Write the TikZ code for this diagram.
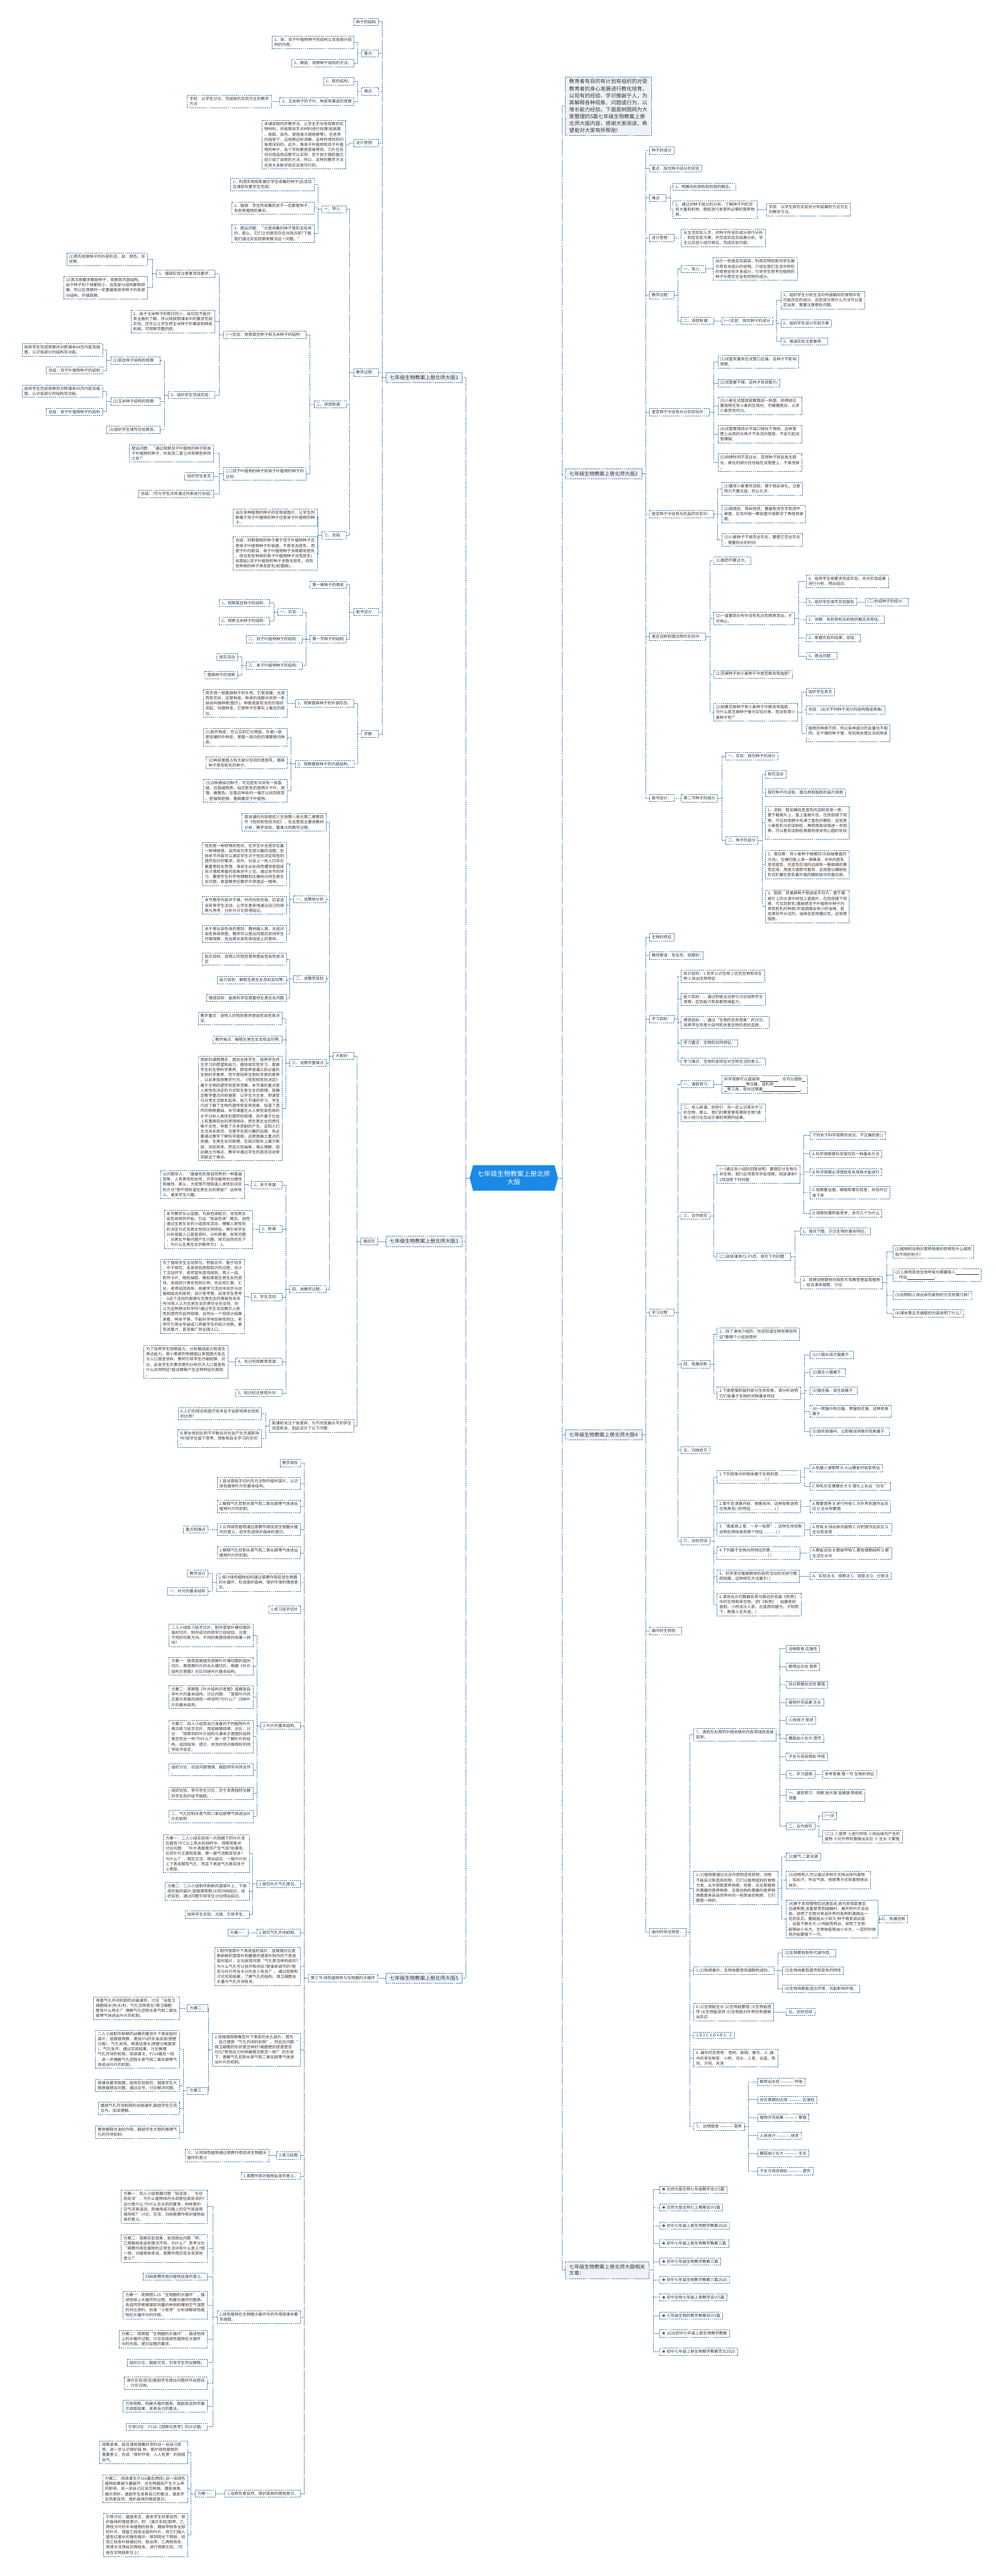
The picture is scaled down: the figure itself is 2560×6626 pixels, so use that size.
\documentclass[tikz,border=0pt]{standalone}
\usepackage{fontspec}
\setmainfont{Noto Sans CJK SC}
\usepackage{tikz}
\usetikzlibrary{shapes.symbols}
\definecolor{lnblue}{HTML}{2B6EA6}
\definecolor{txtgray}{HTML}{333333}
\definecolor{brfill}{HTML}{EEF2F6}
\definecolor{ctblue}{HTML}{1A8AE6}
\newcommand{\blnk}[1]{\rule[-1.5pt]{#1pt}{0.5pt}}

\begin{document}
\begin{tikzpicture}[x=1pt,y=-1pt,
  bx/.style={draw=lnblue,dash pattern=on 3pt off 2pt,line width=1.1pt,fill=white,text=txtgray,align=left,font=\fontsize{10.2}{13.2}\selectfont,inner xsep=6pt,inner ysep=4.5pt},
  lbx/.style={bx,anchor=east},
  rbx/.style={bx,anchor=west},
  br/.style={bx,fill=brfill,font=\fontsize{13}{17}\selectfont,inner xsep=10pt,inner ysep=7pt},
  ct/.style={signal,signal to=west and east,signal pointer angle=150,fill=ctblue,text=white,align=center,font=\fontsize{17}{22}\selectfont,minimum width=227pt,minimum height=66pt,inner sep=4pt},
  ln/.style={draw=lnblue,dash pattern=on 3pt off 2pt,line width=1.1pt}
]
\useasboundingbox (0,0) rectangle (2560,6626);

\node[ct] (ct) at (1321,3030) {七年级生物教案上册北师\\大版};

% left: 北师大版1
\node[br,anchor=east] (l1) at (1189,971) {七年级生物教案上册北师大版1};
\node[lbx] (l1a) at (973,56) {种子的结构};
\node[lbx] (l1b) at (973,137) {重点：};
\node[lbx] (l1b1) at (911,109) {1、单、双子叶植物种子的结构以及各部分结\\构的作用。};
\node[lbx] (l1b2) at (911,162) {2、解剖、观察种子结构的方法。};
\node[lbx] (l1c) at (973,235) {难点：};
\node[lbx] (l1c1) at (911,209) {1、胚的结构。};
\node[lbx] (l1c2) at (911,261) {2、玉米种子的子叶、种皮和果皮的观察};
\node[lbx] (l1c2a) at (698,261) {手段：以学生讨论、完成探究实验为主的教学\\方法};
\node[lbx] (l1d) at (973,368) {设计思想：};
\node[lbx] (l1d1) at (890,372) {本课采取同步教学法，让学生手中有观察的实\\物材料，并能够亲手对材料进行处理(如剥离\\、挑取、染色、使用放大镜观察等)。在老师\\的指导下，边观察边听讲解，这样所得到的印\\象是深刻的。此外，像单子叶植物和双子叶植\\物的种子，各个学校都很容易得到，刀片在任\\何日用品商店都可以买到，至于放大镜前面已\\经介绍了自制的方法，所以，这样的教学方法\\在绝大多数学校应该是可行的。};
\node[lbx] (l1e) at (973,958) {教学过程：};
\node[lbx] (l1e1) at (891,538) {一、导入：};
\node[lbx] (l1e1a) at (808,475) {1、利用实物投影展示学生收集的种子(此活动\\在课前布置学生完成)};
\node[lbx] (l1e1b) at (808,535) {2、强调：学生所收集的并不一定都是种子，\\有些是植物的果实。};
\node[lbx] (l1e1c) at (808,601) {3、提出问题：“大家收集的种子是形态各异\\的，那么，它们之间是否存在共同点呢?下面\\我们通过实验观察来解决这一问题。”};
\node[lbx] (l1e2) at (891,1040) {二、讲授新课：};
\node[lbx] (l1e2a) at (788,861) {(一)实验：观察菜豆种子和玉米种子的结构：};
\node[lbx] (l1e2a1) at (553,704) {1、强调实验注意事项及要求：};
\node[lbx] (l1e2a1a) at (380,667) {(1)首先观察种子的外部形态，如：颜色、形\\状等。};
\node[lbx] (l1e2a1b) at (380,740) {(2)其次按要求解剖种子，观察其内部结构。\\由于种子的个体都较小，且各部分结构都很娇\\嫩，所以在观察时一定要避免损伤种子的各部\\分结构，仔细观察。};
\node[lbx] (l1e2a2) at (553,827) {2、由于玉米种子的胚比较小，纵切后不能对\\其全面的了解。所以除按照课本中的要求完成\\实验，还可以让学生把玉米种子的果皮和种皮\\剥掉，可观察完整的胚。};
\node[lbx] (l1e2a3) at (553,1016) {3、组织学生完成实验：};
\node[lbx] (l1e2a3a) at (412,927) {(1)菜豆种子结构的观察：};
\node[lbx] (m1) at (264,900) {指导学生完成观察并对照课本44页内容及插\\图，认识各部分的结构及功能。};
\node[lbx] (m2) at (264,953) {总结：双子叶植物种子的结构};
\node[lbx] (l1e2a3b) at (412,1033) {(2)玉米种子结构的观察：};
\node[lbx] (m3) at (264,1006) {指导学生完成观察并对照课本45页内容及插\\图，认识各部分的结构及功能。};
\node[lbx] (m4) at (264,1059) {总结：单子叶植物种子的结构};
\node[lbx] (l1e2a3c) at (412,1105) {(3)组织学生填写实验报告。};
\node[lbx] (l1e2b) at (788,1219) {(二)双子叶植物的种子和单子叶植物的种子的\\比较：};
\node[lbx] (l1e2b1) at (549,1166) {提出问题：“通过观察双子叶植物的种子和单\\子叶植物的种子，你发现二者之间有哪些异同\\之处?”};
\node[lbx] (l1e2b2) at (549,1225) {组织学生发言};
\node[lbx] (l1e2b3) at (549,1271) {总结：(可与学生共同通过列表进行总结)};
\node[lbx] (l1e3) at (891,1377) {三、总结：};
\node[lbx] (l1e3a) at (816,1331) {出示多种植物的种子的实物或图片，让学生判\\断属于双子叶植物的种子还是单子叶植物的种\\子。};
\node[lbx] (l1e3b) at (816,1424) {总结：判断植物的种子属于双子叶植物种子还\\是单子叶植物种子的依据，不是有无胚乳，而\\是子叶的数目。单子叶植物种子多数都有胚乳\\，但也有些种类的单子叶植物种子没有胚乳(\\如慈姑);双子叶植物的种子多数无胚乳，但有\\些种类的种子具有胚乳(如蓖麻)。};
\node[lbx] (l1f) at (973,1574) {板书设计：};
\node[lbx] (l1f1) at (891,1504) {第一章种子的萌发};
\node[lbx] (l1f2) at (891,1644) {第一节种子的结构};
\node[lbx] (l1f2a) at (778,1574) {一、实验：};
\node[lbx] (l1f2a1) at (694,1551) {1、观察菜豆种子的结构：};
\node[lbx] (l1f2a2) at (694,1597) {2、观察玉米种子的结构：};
\node[lbx] (l1f2b) at (778,1644) {二、双子叶植物种子的结构：};
\node[lbx] (l1f2c) at (778,1712) {三、单子叶植物种子的结构：};
\node[lbx] (l1f2c1) at (611,1690) {探究活动};
\node[lbx] (l1f2c2) at (611,1736) {蓖麻种子的观察};
\node[lbx] (l1g) at (973,1888) {步骤：};
\node[lbx] (l1g1) at (910,1809) {1、观察蓖麻种子的外部形态。};
\node[lbx] (l1g1a) at (739,1809) {用手捏一捏蓖麻种子的外壳，它很坚硬，光滑\\而有花纹，这是种皮。种皮的阔面中央有一条\\纵线叫做种脊(图示)。种脊底部有浅色的海状\\突起，叫做种阜，它是种子在果实上着生的部\\位。};
\node[lbx] (l1g2) at (910,1965) {2、观察蓖麻种子的内部结构。};
\node[lbx] (l1g2a) at (739,1896) {(1)剥开种皮，可以见到它分两层，外面一层\\是坚硬的外种皮，里面一层白色的薄膜是内种\\皮。};
\node[lbx] (l1g2b) at (739,1962) {(2)种皮里面占有大部分空间的是胚乳，蓖麻\\种子是有胚乳的种子。};
\node[lbx] (l1g2c) at (739,2034) {(3)沿种脊纵切种子，可见胚乳中央有一条裂\\缝，在裂缝两旁，贴近胚乳的是两片子叶，很\\薄，嫩黄色。在靠近种阜的一端可以找到胚芽\\、胚轴和胚根。蓖麻属双子叶植物。};

% left: 北师大版3
\node[br,anchor=east] (l3) at (1189,3193) {七年级生物教案上册北师大版3};
\node[lbx] (l3a) at (971,3193) {第四节};
\node[lbx] (l3a1) at (910,2716) {大家好：};
\node[lbx] (l3a1a) at (839,2115) {我说课的内容是初三生物第八单元第二章第四\\节《性别和性别决定》，在这里我主要说教材\\分析、教学目标、重难点和教学过程。};
\node[lbx] (l3a1b) at (839,2313) {一、说教材分析};
\node[lbx] (p1) at (737,2222) {性别是一种特殊的性状，在学生中总是存在着\\一种神秘感，自然成为学生感兴趣的话题。安\\排本节内容可以满足学生对于性别决定和性别\\遗传知识的需求。另外，社会上一些人仍存在\\着重男轻女思想，母亲生出女孩而遭到家庭成\\员冷落和责备的现象并不少见。通过本节的学\\习，要使学生科学地理解和正确地对待生男生\\女问题，希望教师在教学中渗透这一精神。};
\node[lbx] (p2) at (737,2329) {本节教学内容并不难，时间也较充裕，应该适\\当安排学生活动，让学生更多地通过自己的观\\察与思考，分析与讨论获得结论。};
\node[lbx] (p3) at (737,2402) {关于男女染色体的差别，教材编入男、女成对\\染色体排序图，教师可以提出问题后安排学生\\仔细观察，找出男女染色体组成上的差异。};
\node[lbx] (l3a1c) at (839,2518) {二、说教学目标};
\node[lbx] (p4) at (737,2467) {知识目标：说明人的性别差异是由性染色体决\\定};
\node[lbx] (p5) at (737,2521) {能力目标：解释生男生女及机会均等;};
\node[lbx] (p6) at (737,2567) {情感目标：能用科学态度看待生男生女问题};
\node[lbx] (l3a1d) at (839,2734) {三、说教学重难点};
\node[lbx] (p7) at (726,2620) {教学重点：说明人的性别差异是由性染色体决\\定;};
\node[lbx] (p8) at (726,2674) {教学难点：解释生男生女及机会均等;};
\node[lbx] (p9) at (726,2851) {用新的课程理念，面向全体学生，培养学生终\\生学习的愿望和能力，倡导探究性学习，提高\\学生的生物科学素养，即培养普通公民必备的\\生物科学素养，而不是培养生物科学家的素养\\。以此来指导教学行为。《性别和性别决定》\\属于生物的遗传和变异范畴，本节课的重点是\\人类性别决定的方式和生男生女的原理。我确\\定教学重点的依据是：以学生为主体，把课堂\\与日常生活联系起来，前几节课的学习，学生\\已经了解了生物的遗传和变异现象，知道了遗\\传的物质基础，本节课重在从人类性染色体的\\水平分析人类性别遗传的规律，另外基于社会\\上有重男轻女的思想倾向，把生男生女的责任\\推于女性，导致了许多悲剧的产生。这和人们\\生活关系密切，也是学生感兴趣的话题，有必\\要通过教学了解科学真相，这是我确立重点的\\依据。生男生女的原理，在知识联系上属于断\\层，突如其来，而且比较抽象，难以理解，因\\此确立为难点，教学中通过学生的游戏活动来\\突破这个难点。};
\node[lbx] (l3a1e) at (839,3316) {四、说教学过程。};
\node[lbx] (q1) at (726,3048) {1、关于导课：};
\node[lbx] (q1a) at (629,3047) {以问题导入：“雌雄有别是自然界的一种普遍\\现象，人有男性和女性，许多动植物也分雌性\\和雄性，那么，大家想不想知道人类性别决定\\的方式?想不想知道生男生女的奥秘?”这样导\\入，激发学生兴趣。};
\node[lbx] (q2) at (726,3161) {2、新课：};
\node[lbx] (q2a) at (649,3162) {本节教学从认挂图、为染色体配对、寻找男女\\染色体异同开始，引出“性染色体”概念，进而\\通过生男生女的小组游戏活动，理解人类性别\\的决定方式及男女性别比例特征。再引导学生\\分析我国人口普查资料，分析数据，发现问题\\，对男女平衡问题产生兴趣，探究自然状态下\\，为什么生男生女的概率为1：1。};
\node[lbx] (q3) at (726,3336) {3、学生活动：};
\node[lbx] (q3a) at (629,3334) {为了倡导学生主动参与，积极合作，勤于动手\\，乐于探究，亲身体验获取知识的过程，设计\\了活动环节，老师宣布游戏规则，两人一组，\\制作卡片，随机抽取，模拟家庭生男生女的游\\戏，各组统计男女性别比例，向全班汇报、汇\\总，老师巡回指导，依据学习活动中动手与动\\脑相结合的原则，设计思考题，启发学生思考\\：A这个活动的原理与生男生女的奥秘有关系\\吗?B有人认为生男生女的责任全在女性，你\\认为这种想法科学吗?通过学生活动揭示人类\\性别遗传的自然规律。当然从一个班统计结果\\来看，样本不够，不能科学地反映性别比。老\\师可引用全年级或几界届学生的统计总数，更\\有说服力，甚至推广到全国人口。};
\node[lbx] (q4) at (726,3503) {4、充分利用教育资源：};
\node[lbx] (q4a) at (586,3503) {为了培养学生观察能力、分析概括能力和语言\\表达能力，用小黑板列举建国以来我国大陆五\\次人口普查资料，教师引导学生仔细观察、对\\比，启发学生实事求是的分析历次人口普查有\\什么共同特征?尝试解释产生这种特征的原因\\。};
\node[lbx] (q5) at (726,3583) {5、知识的迁移和升华：};
\node[lbx] (l3a2) at (910,3668) {新课标关注个体差异，为不同发展水平的学生\\创造机会，因此设计了以下问题：};
\node[lbx] (l3a2a) at (673,3636) {A.人们的观念和医疗技术会不会影响男女性别\\的比例?};
\node[lbx] (l3a2b) at (673,3700) {B.男女性别比例不平衡会对社会产生负面影响\\吗?给学生留下思考、想象和自主学习的空间\\。};

% left: 北师大版5
\node[br,anchor=east] (l5) at (1189,5088) {七年级生物教案上册北师大版5};
\node[lbx] (l5a) at (971,5088) {第三节 绿色植物参与生物圈的水循环};
\node[lbx] (r1) at (773,3763) {教学目标};
\node[lbx] (r2) at (773,3816) {1.尝试用徒手切片的方法制作临时装片，认识\\绿色植物叶片的基本结构。};
\node[lbx] (r3) at (773,3875) {2.解释气孔控制水蒸气和二氧化碳等气体进出\\植物叶片的机制。};
\node[lbx] (r4) at (773,3934) {3.认同绿色植物通过蒸腾作用促进生物圈水循\\环的意义，初步形成保护森林的意识。};
\node[lbx] (r4a) at (535,3934) {重点和难点};
\node[lbx] (r5) at (773,3994) {1.解释气孔控制水蒸气和二氧化碳等气体进出\\植物叶片的机制。};
\node[lbx] (r6) at (773,4070) {2.探讨绿色植物如何通过蒸腾作用促进生物圈\\的水循环，形成保护森林、保护环境的情感意\\识。};
\node[lbx] (r6a) at (535,4047) {教学设计};
\node[lbx] (r6b) at (535,4093) {一、叶片的基本结构};
\node[lbx] (r7) at (773,4140) {1.练习徒手切片};
\node[lbx] (r8) at (773,4439) {2.叶片的基本结构。};
\node[lbx] (s1) at (651,4206) {二人小组练习徒手切片，制作菠菜叶横切面的\\临时切片。制作成功的同学介绍经验。注意：\\不同的切割方向、不同的角度观察的效果一样\\吗?};
\node[lbx] (s2) at (651,4286) {方案一：使用显微镜先观察叶片横切面的临时\\切片，再观察叶片的永久横切片。根据《叶片\\结构示意图》对比归纳叶片基本结构。};
\node[lbx] (s3) at (651,4365) {方案二：观察图《叶片结构示意图》或模型自\\学叶片的基本结构。讨论问题：“菠菜叶片的\\正面与背面的绿色一样深吗?为什么?”归纳叶\\片的基本结构。};
\node[lbx] (s4) at (651,4467) {方案三：四人小组用自己准备的不同植物叶片\\再次练习徒手切片，用显微镜观察、对比，讨\\论：“观察到的叶片结构与课本示意图的结构\\是否完全一样?为什么?”进一步了解叶片的结\\构。巡回指导、提示，并及时地对做得好的同\\学给予肯定。};
\node[lbx] (s5) at (651,4552) {组织讨论，创设问题情境，鼓励同学共同合作\\。};
\node[lbx] (s6) at (651,4613) {组织实验，参与学生讨论，对于发表独特见解\\的学生及时给予鼓励。};
\node[lbx] (s7) at (651,4672) {二、气孔控制水蒸气和二氧化碳等气体进出叶\\片的机制};
\node[lbx] (r9) at (773,4846) {1.探究叶片气孔情况。};
\node[lbx] (t1) at (641,4768) {方案一：二人小组实验将一片刚摘下的叶片浸\\在盛有70℃以上热水的烧杯中。观察现象并\\讨论问题：“叶片表面是否产生气泡?如果有，\\比较叶片正面和背面，哪一面气泡数目较多?\\为什么?”，相互交流，得出结论：一般叶片的\\上下表皮都有气孔，而且下表皮气孔数目多于\\上表皮。};
\node[lbx] (t2) at (641,4865) {方案二：二人小组制作新鲜的菠菜叶上、下表\\皮的临时装片;显微镜观察;比较归纳结论。组\\织实验，通过问题引导学生讨论得出结论。};
\node[lbx] (t3) at (641,4925) {指导学生实验，点拨、引导学生。};
\node[lbx] (r10) at (773,4971) {2.探究气孔开闭机制。};
\node[lbx] (r10a) at (639,4971) {方案一：};
\node[lbx] (r11) at (773,5058) {1.制作菠菜叶下表皮临时装片，显微镜对比观\\察新鲜的菠菜叶和萎蔫的菠菜叶制作的下表皮\\临时装片，主动发现问题“气孔是怎样构成的?\\为什么气孔可以张开和闭合?是谁来调节的?是\\否与叶片所含水分的多少有关?”。通过观察和\\讨论实验结果，了解气孔的结构、保卫细胞含\\水量与气孔开闭有关。};
\node[lbx] (r12) at (773,5272) {2.显微镜观察蚕豆叶下表皮的永久装片。首先\\，自己猜想“气孔开闭的机制”。然后在问题“\\保卫细胞的形状是怎样的?细胞壁的厚度是否\\均匀?受到拉力时伸展情况是否一样?”的引导\\下，理解气孔控制水蒸气和二氧化碳等气体进\\出叶片的机制。};
\node[lbx] (r12a) at (535,5165) {方案二：};
\node[lbx] (r12a1) at (462,5165) {观看气孔开闭机制的动画课件，讨论“当保卫\\细胞吸水(失水)时，气孔怎样变化?保卫细胞\\壁有什么特点?”理解气孔控制水蒸气和二氧化\\碳等气体进出叶片的机制。};
\node[lbx] (r12b) at (535,5378) {方案三：};
\node[lbx] (u1) at (462,5271) {二人小组制作新鲜的幼嫩的蚕豆叶下表皮临时\\装片，显微镜观察，滴加5\%的甘油溶液(质壁\\分离)，气孔关闭。再滴加清水(质壁分离复原\\)，气孔张开。通过实验结果，讨论推理\\气孔开闭的机制。阅读课文，P114最后一段\\，进一步理解气孔控制水蒸气和二氧化碳等气\\体进出叶片的机制。};
\node[lbx] (u2) at (462,5364) {按课本要求画图。指导实验探究，鼓励学生大\\胆质疑提出问题，通过合作，讨论解决问题。};
\node[lbx] (u3) at (462,5423) {播放气孔开闭机制的动画课件;鼓励学生交流\\合作、加深理解。};
\node[lbx] (u4) at (462,5484) {教师解释甘油的作用，鼓励学生大胆的推理气\\孔的开闭机制。};
\node[lbx] (r13) at (773,5544) {3.练习绘图};
\node[lbx] (r13a) at (692,5544) {三、认同绿色植物通过蒸腾作用促进生物圈水\\循环的意义};
\node[lbx] (r14) at (773,5597) {1.蒸腾作用对植物自身的意义。};
\node[lbx] (r15) at (773,5960) {2.绿色植物在生物圈水循环中的作用按课本要\\求画图。};
\node[lbx] (v1) at (533,5676) {方案一：四人小组根据问题“俗话说：‘水往\\低处流’，为什么植物体内水却是往高处流的?\\动力是什么?为什么在炎热的夏季，树林里的\\空气凉爽湿润，而操场或马路上的空气就显得\\燥热呢?”讨论、交流、归纳蒸腾作用对植物自\\身的意义。};
\node[lbx] (v2) at (533,5783) {方案二：观察实验现象，发现提出问题“甲、\\乙两根枝条染色情况不同，为什么?”思考讨论\\“蒸腾作用在植物的正常生活中有什么意义?想\\一想，对植物体来说，蒸腾作用还有没有其他\\意义?”};
\node[lbx] (v3) at (533,5856) {归纳蒸腾作用对植物自身的意义。};
\node[lbx] (v4) at (533,5929) {方案一：观察图3-25“生物圈的水循环”，描\\述地球上水循环的过程，构建水循环的图表。\\各组同学根据课前测量的林地和裸地空气湿度\\的对比资料，扮演“小老师”分析讲解绿色植\\物在水循环中的作用。};
\node[lbx] (v5) at (533,6016) {方案二：观察图“生物圈的水循环”，描述地球\\上的水循环过程，讨论总结绿色植物在水循环\\中的作用。提示绘图的要求。};
\node[lbx] (v6) at (533,6077) {组织讨论，鼓励交流，引导学生作出解释。};
\node[lbx] (v7) at (533,6130) {演示实验(前后)鼓励学生提出问题并作出假设\\，讨论归纳。};
\node[lbx] (v8) at (533,6189) {引导观察、构建水循环图表。鼓励各组同学展\\示调查结果，发表自己的看法。};
\node[lbx] (v9) at (533,6242) {引导讨论：P116《观察与思考》的讨论题。};
\node[lbx] (r16) at (773,6414) {1.培养热爱自然，保护森林的情感意识。};
\node[lbx] (r16a) at (555,6414) {方案一：};
\node[lbx] (w1) at (483,6308) {观看录像，结合课前搜集的资料谈一谈自己感\\受。进一步认识保护森 林、爱护绿色植物的\\重要意义，形成“保护环境，人人有责”的校园\\风气。};
\node[lbx] (w2) at (483,6402) {方案二：阅读课文(P116最后两段);谈一谈绿色\\植物如果被大量破坏，对生物圈会产生什么样\\的影响，说一说自己应该怎样做。播放录像、\\展示资料，激励学生发表自己的看法，激发学\\生热爱自然、保护森林的情感意识。};
\node[lbx] (w3) at (483,6520) {引导讨论，鼓励发言，激发学生热爱自然、保\\护森林的情感意识。附：(演示实验)取甲、乙\\两枝大叶的木本植物的枝条，摘掉甲枝条全部\\的叶片，保留乙枝条全部的叶片，将它们插入\\盛有红墨水的锥形瓶中，移到阳光下照射。待\\到乙枝条叶脉微红时，取出甲、乙两枝枝条，\\用清水洗净纵切两枝条，进行观察比较。(可\\放在实物投影仪上)};

% right: intro and 北师大版2
\node[br,anchor=west,font=\fontsize{13.4}{18}\selectfont,inner ysep=6pt] (rt0) at (1453,273) {教育者有目的有计划有组织的对受\\教育者的身心发展进行教化培育，\\以现有的经验、学识推敲于人，为\\其解释各种现象、问题或行为，以\\增长能力经验。下面是树图网为大\\家整理的5篇七年级生物教案上册\\北师大版内容，感谢大家阅读，希\\望能对大家有所帮助!};
\node[br,anchor=west] (rt2) at (1453,1219) {七年级生物教案上册北师大版2};
\node[rbx] (b1) at (1669,387) {种子的成分};
\node[rbx] (b2) at (1669,433) {重点：探究种子成分的实验};
\node[rbx] (b3) at (1669,509) {难点：};
\node[rbx] (b3a) at (1730,480) {1、明确无机物和有机物的概念。};
\node[rbx] (b3b) at (1730,539) {2、通过对种子成分的分析，了解种子内贮存\\有大量有机物，是胚进行发育所必需的营养物\\质。};
\node[rbx] (b3b1) at (1970,539) {手段：以学生探究实验并分析结果的方式为主\\的教学方法。};
\node[rbx] (b4) at (1669,612) {设计思想：};
\node[rbx] (b4a) at (1751,612) {从生活实际入手，对种子所含的成分进行分析\\，制定实验方案，并完成实验及结果分析。学\\生以实验小组为单位，完成实验内容。};
\node[rbx] (b5) at (1669,759) {教学过程：};
\node[rbx] (b5a) at (1751,692) {一、导入：};
\node[rbx] (b5a1) at (1833,692) {出示一些食品包装袋，利用实物投影向学生展\\示其有关成分的说明。介绍在我们生活中所吃\\的食物含有许多成分，引导学生思考在植物的\\种子中是否也含有同样的成分。};
\node[rbx] (b5b) at (1751,825) {二、讲授新课：};
\node[rbx] (b5b1) at (1855,825) {(一)实验：探究种子的成分};
\node[rbx] (c1) at (2007,772) {1、组织学生分析生活中所接触到的食物中有\\可能存在的成分，这些成分用什么方法可以鉴\\定出来，需要注意哪些问题。};
\node[rbx] (c2) at (2007,832) {2、组织学生设计实验方案};
\node[rbx] (c3) at (2007,878) {3、强调实验注意事项：};
\node[rbx] (b6) at (1669,1060) {鉴定种子中含有水分的实验中：};
\node[rbx] (d1) at (1845,931) {(1)试管夹要夹在试管口近端，这样才不影响\\观察;};
\node[rbx] (d2) at (1845,985) {(2)试管要干燥，这样才有说服力;};
\node[rbx] (d3) at (1845,1044) {(3)小麦在试管底部要散成一斜面，烘烤部位\\要局限在有小麦的区域内，可缓慢晃动，以求\\小麦受热均匀。};
\node[rbx] (d4) at (1845,1117) {(4)试管需保持水平或口稍向下倾斜，这样管\\壁上出现的水珠才不会流向管底，不会引起试\\管爆裂;};
\node[rbx] (d5) at (1845,1190) {(5)烘烤时间不宜过长，否则种子就会发生碳\\化，碳化的部分往往粘在试管壁上，不易洗掉\\。};
\node[rbx] (b7) at (1669,1322) {鉴定种子中含有无机盐的实验中：};
\node[rbx] (e1) at (1855,1257) {(1)要将小麦事先泡软，便于铁丝穿扎。注意\\用力不要过猛，防止扎手;};
\node[rbx] (e2) at (1855,1322) {(2)燃烧后，铁丝很烫，要避免烫伤手和烫坏\\桌面，应及时放一解剖盘中或晾凉了再放到桌\\面;};
\node[rbx] (e3) at (1855,1389) {(3)小麦种子不易完全灰化，要使它完全灰化\\，需要较长的时间};
\node[rbx] (b8) at (1669,1638) {鉴定淀粉和蛋白质的实验中：};
\node[rbx] (f1) at (1834,1442) {(1)面团不要过大。};
\node[rbx] (f2) at (1834,1591) {(2)一直要到纱布中没有乳白色物质渗出，才\\可停止。};
\node[rbx] (g1) at (2072,1495) {4、指导学生按要求完成实验，并对实验结果\\进行分析，得出结论。};
\node[rbx] (g2) at (2072,1548) {5、组织学生填写实验报告};
\node[rbx] (g2a) at (2224,1548) {(二)总结种子的成分：};
\node[rbx] (g3) at (2072,1594) {1、讲解：有机物和无机物的概念及特征。};
\node[rbx] (g4) at (2072,1641) {2、根据实验的结果，总结：};
\node[rbx] (g5) at (2072,1687) {3、提出问题：};
\node[rbx] (f3) at (1834,1734) {(1)芝麻种子和小麦种子中是否都含有脂肪?};
\node[rbx] (f4) at (1834,1832) {(2)如果芝麻种子和小麦种子中都含有脂肪，\\为什么用芝麻种子做为实验对象，而没有用小\\麦种子呢?”};
\node[rbx] (h1) at (2072,1780) {组织学生发言};
\node[rbx] (h2) at (2072,1826) {总结：(出示不同种子成分的结构图或表格)};
\node[rbx] (h3) at (2072,1886) {植物的种类不同，所以各种成分的含量也不相\\同。在干燥的种子里，有机物总是比无机物多\\。};
\node[rbx] (b9) at (1669,2053) {板书设计：};
\node[rbx] (b9a) at (1751,2053) {第二节种子的成分};
\node[rbx] (b9a1) at (1865,1945) {一、实验：探究种子的成分};
\node[rbx] (b9a2) at (1865,2162) {二、种子的成分};
\node[rbx] (i1) at (1967,1992) {探究活动};
\node[rbx] (i2) at (1967,2039) {探究种子内淀粉、蛋白质和脂肪的装片观察};
\node[rbx] (i3) at (1967,2117) {1、淀粉：取加碘后呈蓝色的淀粉浆液一滴，\\置于载玻片上，盖上盖玻片后，在低倍镜下观\\察，可见到视野中充满了蓝色的颗粒，这就是\\小麦胚乳中的淀粉粒，再转用高倍镜进一步观\\察，可以看到淀粉粒表面有很多同心圆的轮纹\\。};
\node[rbx] (i4) at (1967,2224) {2、蛋白质：将小麦种子做横切(与纵轴垂直的\\方向)，在横切面上滴一滴碘液，中央的胚乳\\呈现蓝色，在蓝色区域的边缘有一圈很细的黄\\色区域，用放大镜即可看到，这就是以糊粉粒\\形式贮藏在胚乳最外面的糊粉层中的蛋白质。};
\node[rbx] (i5) at (1967,2331) {3、脂肪：将蓖麻种子制成徒手切片，置于载\\玻片上的水滴中并加上盖玻片，在低倍镜下观\\察，可见到胚乳(蓖麻是双子叶植物中种子内\\具有胚乳的种类)中或周围出现小的油珠。若\\加滴苏丹Ⅲ试剂，油珠会呈现橘红色，这就是\\脂肪。};

% right: 北师大版4
\node[br,anchor=west] (rt4) at (1453,3690) {七年级生物教案上册北师大版4};
\node[rbx] (k1) at (1669,2411) {生物的特征};
\node[rbx] (k2) at (1669,2458) {教师寄语：有生命，就精彩!};
\node[rbx] (k3) at (1669,2621) {学习目标：};
\node[rbx] (k3a) at (1751,2511) {知识目标：1 初步认识生物 2 区别生物和非生\\物 3.说出生物特征};
\node[rbx] (k3b) at (1751,2570) {能力目标：、通过积极主动参与讨论培养学生\\观察、区别能力和发散思维能力。};
\node[rbx] (k3c) at (1751,2630) {情感目标：、通过“生物的生命现象”的讨论，\\培养学生热爱大自然和关爱生物的良好品质。};
\node[rbx] (k3d) at (1751,2683) {学习重点：生物的共同特征。};
\node[rbx] (k3e) at (1751,2730) {学习难点：生物的各特征对生物生活的意义。};
\node[rbx] (k4) at (1669,3376) {学习过程：};
\node[rbx] (k4a) at (1751,2789) {一、课前预习：};
\node[rbx] (k4a1) at (1855,2789) {科学观察可以直接用\blnk{48}，也可以借助\blnk{8}\\\blnk{56}等仪器，或利用\blnk{56}\\\blnk{8}等工具，有时还需要\blnk{96}。};
\node[rbx] (k4b) at (1751,2862) {二、导入新课：同学们：你一定认识其中不少\\的生物，那么，我们的教室里有哪些生物?请\\各小组讨论后出示课前观察的结果。};
\node[rbx] (k4c) at (1751,3127) {三、合作探究};
\node[rbx] (k4c1) at (1843,3021) {(一)通过各小组的回答说明，要想区分生物与\\非生物，我们必须首先学会观察。阅读课本P\\2页回答下列问题：};
\node[rbx] (n1) at (2082,2921) {下列关于科学观察的说法，不正确的是( )};
\node[rbx] (n2) at (2082,2968) {A.科学观察是科学探究的一种基本方法};
\node[rbx] (n3) at (2082,3015) {B.科学观察必须借助有关用具才能进行};
\node[rbx] (n4) at (2082,3068) {C.观察要全面、细致和事实就是，并及时记\\录下来};
\node[rbx] (n5) at (2082,3121) {D.观察时要积极思考，多问几个为什么};
\node[rbx] (k4c2) at (1843,3233) {(二)阅读课本P2-P5页，探究下列问题：};
\node[rbx] (o1) at (2057,3167) {1、填充下图，识记生物的基本特征。};
\node[rbx] (o2) at (2057,3299) {2、观察动物题材的投影片和教室里盆栽植物\\，结合课本插图，讨论：};
\node[rbx] (o2a) at (2295,3220) {(1)植物和动物对营养物质的获得有什么相同\\和不同的地方?};
\node[rbx] (o2b) at (2295,3279) {(2)人类同其他生物呼吸均需要吸入\blnk{60}\\、呼出\blnk{70}。};
\node[rbx] (o2c) at (2295,3332) {(3)动物和人排出体内废物的方式有哪几种?};
\node[rbx] (o2d) at (2295,3378) {(4)课本第五页插图的内容说明了什么?};
\node[rbx] (k4d) at (1751,3509) {四、拓展创新};
\node[rbx] (k4d1) at (1843,3432) {1、除了课本介绍的，你还知道生物有哪些特\\征?看哪个小组说得好};
\node[rbx] (k4d2) at (1843,3584) {2.下面是猫和鼠的部分生命现象，请分析说明\\它们各属于生物的何种基本特征};
\node[rbx] (x1) at (2082,3485) {(1)小猫长成大猫属于 .};
\node[rbx] (x2) at (2082,3531) {(2)猫生小猫属于 .};
\node[rbx] (x3) at (2082,3577) {(3)猫生猫，鼠生鼠属于 .};
\node[rbx] (x4) at (2082,3630) {(4)一窝猫中有白猫、黑猫和花猫，这种现象\\属于 .};
\node[rbx] (x5) at (2082,3683) {(5)鼠听到猫叫，立即躲进洞里的现象属于 .};
\node[rbx] (k4e) at (1751,3730) {五、归纳拾贝};
\node[rbx] (k4f) at (1751,3964) {六、达标测试};
\node[rbx] (y1) at (1843,3799) {1.下列现象中的物体属于生物的是..................\\..........................................( )};
\node[rbx] (y1a) at (2082,3776) {A.机器人弹钢琴 B.火山爆发时岩浆喷出};
\node[rbx] (y1b) at (2082,3823) {C.钟乳石在慢慢长大 D.馒头上长出“白毛”};
\node[rbx] (y2) at (1843,3875) {2.牵牛花清晨开放，傍晚关闭，这种现象说明\\生物具有( )的特征......................( )};
\node[rbx] (y2a) at (2082,3875) {A.需要营养 B.进行呼吸 C.对外界刺激作出反\\应 D.生长和繁殖};
\node[rbx] (y3) at (1843,3934) {3.“离离原上草，一岁一枯荣”，这种生命现象\\说明生物体具有哪个特征............( )};
\node[rbx] (y3a) at (2082,3934) {A.呼吸 B.排出体内废物 C.对刺激作出反应 D.\\生长和发育};
\node[rbx] (y4) at (1843,3995) {4.下列属于生物共同特征的是.........................\\............................................( )};
\node[rbx] (y4a) at (2082,3995) {A.都能运动 B.都能呼吸 C.都有细胞结构 D.都\\生活在水中};
\node[rbx] (y5) at (1843,4054) {5、科学家对蜜蜂群体的自然活动状况进行跟\\踪拍摄，这种研究方法属于( )};
\node[rbx] (y5a) at (2082,4054) {A、实验法 B、观察法 C、调查法 D、分类法};
\node[rbx] (y6) at (1843,4127) {6.请说出元代散曲名家马致远的名曲《秋思》\\中的生物和非生物。(附《秋思》：枯藤老树\\昏鸦，小桥流水人家，古道西风瘦马，夕阳西\\下，断肠人在天涯。)};
\node[rbx] (k5) at (1669,4195) {曲中的生物有：};
\node[rbx] (k6) at (1669,4970) {曲中的非生物有：};
\node[rbx] (z1) at (1783,4462) {7、请将左右两列中相关联的内容用线段连接\\起来。};
\node[rbx] (z1a) at (2021,4241) {动物取食 应激性};
\node[rbx] (z1b) at (2021,4287) {鲸喷出水柱 营养};
\node[rbx] (z1c) at (2021,4333) {向日葵朝向太阳 繁殖};
\node[rbx] (z1d) at (2021,4379) {植物开花结果 生长};
\node[rbx] (z1e) at (2021,4425) {人体排汗 排泄};
\node[rbx] (z1f) at (2021,4472) {蘑菇由小长大 遗传};
\node[rbx] (z1g) at (2021,4519) {子女与母亲相似 呼吸};
\node[rbx] (z1h) at (2021,4564) {七、学习感悟};
\node[rbx] (z1h1) at (2114,4564) {参考答案 第一节 生物的特征};
\node[rbx] (z1i) at (2021,4618) {一、课前预习：肉眼 放大镜 显微镜 照相机\\测量};
\node[rbx] (z1j) at (2021,4697) {二、合作探究};
\node[rbx] (z1j1) at (2114,4671) {(一)B};
\node[rbx] (z1j2) at (2114,4724) {(二)1.①营养 ②进行呼吸 ③排出体内产生的\\废物 ④对外界刺激做出反应 ⑤ 生长 ⑥繁殖};
\node[rbx] (z2) at (1783,4856) {2.(1)植物是通过光合作用制造有机物，动物\\不能自己制造有机物，它们以植物或别的食物\\为食，从中获取营养物质。但是，无论是植物\\所需要的营养物质，还是动物所需要的营养物\\质都是来自自然界中的一些简单的物质，它们\\都是一样的。};
\node[rbx] (z2a) at (2021,4776) {(2)氧气 二氧化碳};
\node[rbx] (z2b) at (2021,4836) {(3)动物和人可以通过多种方式排出体内废物\\，如出汗、呼出气体、排尿等方式将废物排出\\体外。};
\node[rbx] (z2c) at (2021,4936) {(4)狮子发现猎物后迅速追击;斑马发现敌害后\\迅速奔跑;含羞草受到碰触时，展开的叶片会合\\拢。说明了生物对来自外界的各种刺激做出一\\定的反应。蘑菇能从小到大;种子萌发成幼苗\\，幼苗不断长大;小鸡破壳而出，说明了生物\\能够由小长大。生物体能够由小长大，一定的时候\\就开始繁殖下一代。};
\node[rbx] (z2c1) at (2260,4936) {三、拓展创新};
\node[rbx] (z3) at (1783,5069) {1.(1)除病毒外，生物体都是有细胞构成的。};
\node[rbx] (z3a) at (2011,5023) {(2)生物都有新陈代谢作用。};
\node[rbx] (z3b) at (2011,5069) {(3)生物体都有遗传和变异的特性};
\node[rbx] (z3c) at (2011,5115) {(4)生物体都能适应环境，也能影响环境。};
\node[rbx] (z4) at (1783,5175) {6.(1)生物能生长 (2)生物能繁殖 (3)生物能遗\\传 (4)生物能变异 (5)生物能对外界的刺激做\\出反应};
\node[rbx] (z4a) at (2021,5175) {五、达标测试};
\node[rbx] (z5) at (1783,5235) {1.D 2.C 3.D 4.B 5、C};
\node[rbx] (z6) at (1783,5294) {6. 曲中的生物有：老树、昏鸦、瘦马、人 ;曲\\中的非生物有：小桥、流水、人家、古道、西\\风、夕阳、天涯};
\node[rbx] (z7) at (1783,5470) {7、 动物取食 ———— 营养};
\node[rbx] (z7a) at (1947,5355) {鲸喷出水柱 ———— 呼吸};
\node[rbx] (z7b) at (1947,5401) {向日葵朝向太阳 ———— 应激性};
\node[rbx] (z7c) at (1947,5447) {植物开花结果 ———— 繁殖};
\node[rbx] (z7d) at (1947,5493) {人体排汗 ———— 排泄};
\node[rbx] (z7e) at (1947,5539) {蘑菇由小长大 ———— 生长};
\node[rbx] (z7f) at (1947,5585) {子女与母亲相似 ———— 遗传};

% right: 相关文章
\node[br,anchor=west] (rt6) at (1453,5839) {七年级生物教案上册北师大版相关\\文章：};
\node[rbx] (j1) at (1695,5632) {★ 北师大版生物七年级教学设计5篇};
\node[rbx] (j2) at (1695,5678) {★ 北师大版生物七上教案设计5篇};
\node[rbx] (j3) at (1695,5725) {★ 初中七年级上册生物教学教案2020};
\node[rbx] (j4) at (1695,5771) {★ 初中七年级上册生物教学教案三篇};
\node[rbx] (j5) at (1695,5817) {★ 初中七年级生物教学教案三篇};
\node[rbx] (j6) at (1695,5864) {★ 初中七年级生物教学教案三篇2020};
\node[rbx] (j7) at (1695,5909) {★ 初中生物七年级上册教学设计5篇};
\node[rbx] (j8) at (1695,5956) {★ 七年级生物的教学教案设计5篇};
\node[rbx] (j9) at (1695,6002) {★ 2020初中七年级上册生物教学教案};
\node[rbx] (j10) at (1695,6049) {★ 初中七年级上册生物教学教案范文2020};

% connectors, left side
\foreach \p/\c in {ct/l1,ct/l3,ct/l5,
  l1/l1a,l1/l1b,l1/l1c,l1/l1d,l1/l1e,l1/l1f,l1/l1g,
  l1b/l1b1,l1b/l1b2,l1c/l1c1,l1c/l1c2,l1c2/l1c2a,l1d/l1d1,
  l1e/l1e1,l1e/l1e2,l1e/l1e3,l1e1/l1e1a,l1e1/l1e1b,l1e1/l1e1c,
  l1e2/l1e2a,l1e2/l1e2b,l1e2a/l1e2a1,l1e2a/l1e2a2,l1e2a/l1e2a3,
  l1e2a1/l1e2a1a,l1e2a1/l1e2a1b,l1e2a3/l1e2a3a,l1e2a3/l1e2a3b,l1e2a3/l1e2a3c,
  l1e2a3a/m1,l1e2a3a/m2,l1e2a3b/m3,l1e2a3b/m4,
  l1e2b/l1e2b1,l1e2b/l1e2b2,l1e2b/l1e2b3,l1e3/l1e3a,l1e3/l1e3b,
  l1f/l1f1,l1f/l1f2,l1f2/l1f2a,l1f2/l1f2b,l1f2/l1f2c,
  l1f2a/l1f2a1,l1f2a/l1f2a2,l1f2c/l1f2c1,l1f2c/l1f2c2,
  l1g/l1g1,l1g/l1g2,l1g1/l1g1a,l1g2/l1g2a,l1g2/l1g2b,l1g2/l1g2c,
  l3/l3a,l3a/l3a1,l3a/l3a2,l3a2/l3a2a,l3a2/l3a2b,
  l3a1/l3a1a,l3a1/l3a1b,l3a1/l3a1c,l3a1/l3a1d,l3a1/l3a1e,
  l3a1b/p1,l3a1b/p2,l3a1b/p3,l3a1c/p4,l3a1c/p5,l3a1c/p6,l3a1d/p7,l3a1d/p8,l3a1d/p9,
  l3a1e/q1,l3a1e/q2,l3a1e/q3,l3a1e/q4,l3a1e/q5,q1/q1a,q2/q2a,q3/q3a,q4/q4a,
  l5/l5a,l5a/r1,l5a/r2,l5a/r3,l5a/r4,l5a/r5,l5a/r6,l5a/r7,l5a/r8,l5a/r9,l5a/r10,
  l5a/r11,l5a/r12,l5a/r13,l5a/r14,l5a/r15,l5a/r16,
  r4/r4a,r6/r6a,r6/r6b,r8/s1,r8/s2,r8/s3,r8/s4,r8/s5,r8/s6,r8/s7,
  r9/t1,r9/t2,r9/t3,r10/r10a,r12/r12a,r12/r12b,r12a/r12a1,
  r12b/u1,r12b/u2,r12b/u3,r12b/u4,r13/r13a,
  r15/v1,r15/v2,r15/v3,r15/v4,r15/v5,r15/v6,r15/v7,r15/v8,r15/v9,
  r16/r16a,r16a/w1,r16a/w2,r16a/w3}
  \draw[ln] (\p.west) -- ++(-10,0) |- (\c.east);

% connectors, right side
\foreach \p/\c in {ct/rt0,ct/rt2,ct/rt4,ct/rt6,
  rt2/b1,rt2/b2,rt2/b3,rt2/b4,rt2/b5,rt2/b6,rt2/b7,rt2/b8,rt2/b9,
  b3/b3a,b3/b3b,b3b/b3b1,b4/b4a,b5/b5a,b5/b5b,b5a/b5a1,b5b/b5b1,
  b5b1/c1,b5b1/c2,b5b1/c3,b6/d1,b6/d2,b6/d3,b6/d4,b6/d5,b7/e1,b7/e2,b7/e3,
  b8/f1,b8/f2,b8/f3,b8/f4,f2/g1,f2/g2,f2/g3,f2/g4,f2/g5,g2/g2a,f4/h1,f4/h2,f4/h3,
  b9/b9a,b9a/b9a1,b9a/b9a2,b9a2/i1,b9a2/i2,b9a2/i3,b9a2/i4,b9a2/i5,
  rt4/k1,rt4/k2,rt4/k3,rt4/k4,rt4/k5,rt4/k6,
  k3/k3a,k3/k3b,k3/k3c,k3/k3d,k3/k3e,
  k4/k4a,k4/k4b,k4/k4c,k4/k4d,k4/k4e,k4/k4f,k4a/k4a1,
  k4c/k4c1,k4c/k4c2,k4c1/n1,k4c1/n2,k4c1/n3,k4c1/n4,k4c1/n5,
  k4c2/o1,k4c2/o2,o2/o2a,o2/o2b,o2/o2c,o2/o2d,
  k4d/k4d1,k4d/k4d2,k4d2/x1,k4d2/x2,k4d2/x3,k4d2/x4,k4d2/x5,
  k4f/y1,k4f/y2,k4f/y3,k4f/y4,k4f/y5,k4f/y6,y1/y1a,y1/y1b,y2/y2a,y3/y3a,y4/y4a,y5/y5a,
  k6/z1,k6/z2,k6/z3,k6/z4,k6/z5,k6/z6,k6/z7,
  z1/z1a,z1/z1b,z1/z1c,z1/z1d,z1/z1e,z1/z1f,z1/z1g,z1/z1h,z1/z1i,z1/z1j,
  z1h/z1h1,z1j/z1j1,z1j/z1j2,z2/z2a,z2/z2b,z2/z2c,z2c/z2c1,
  z3/z3a,z3/z3b,z3/z3c,z4/z4a,
  z7/z7a,z7/z7b,z7/z7c,z7/z7d,z7/z7e,z7/z7f,
  rt6/j1,rt6/j2,rt6/j3,rt6/j4,rt6/j5,rt6/j6,rt6/j7,rt6/j8,rt6/j9,rt6/j10}
  \draw[ln] (\p.east) -- ++(10,0) |- (\c.west);
\end{tikzpicture}
\end{document}
